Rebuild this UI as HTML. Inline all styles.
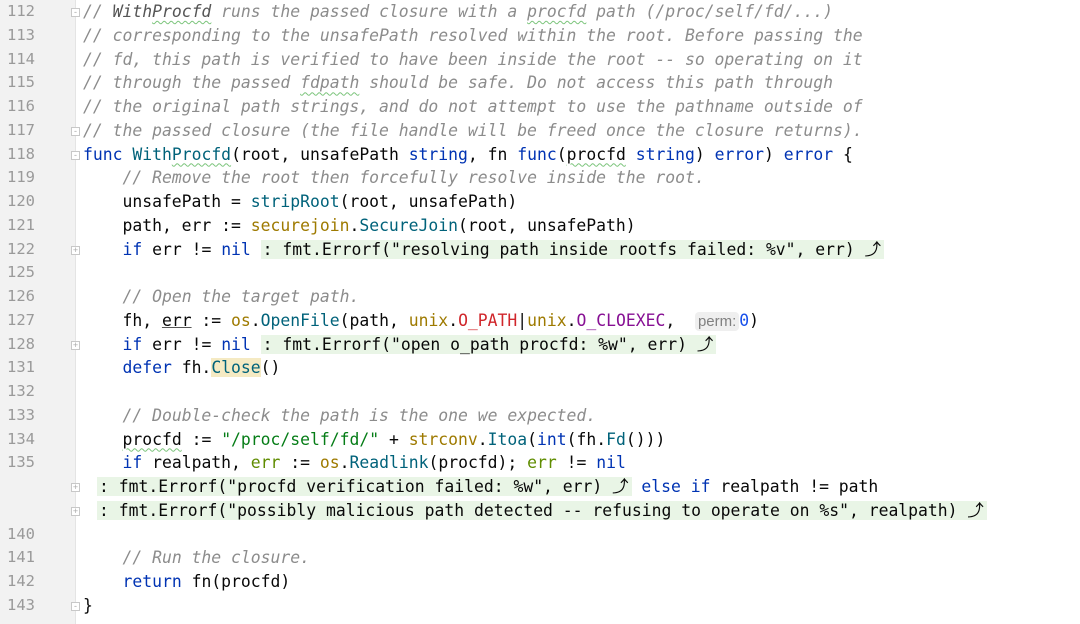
<!DOCTYPE html>
<html><head><meta charset="utf-8"><style>
body{margin:0;width:1080px;height:624px;background:#fff;position:relative;overflow:hidden;font-family:"DejaVu Sans Mono","Liberation Mono",monospace;font-size:16.4px;color:#080808}
.g{position:absolute;left:0;top:0;width:75px;height:624px;background:#f2f2f2;border-right:1px solid #e4e4e4}
.r{position:absolute;left:0;height:23.75px;line-height:23.75px;width:1080px;white-space:pre}
.n{position:absolute;left:7px;color:#9a9a9a;font-family:"DejaVu Sans Mono",monospace;font-size:15.5px}
.c{position:absolute;left:83px}
.cm{color:#8c8c8c;font-style:italic}
.k{color:#0033b3}
.f{color:#00627a}
.p{color:#9e7a00}
.s{color:#067d17}
.num{color:#1750eb}
.red{color:#d0262b}
.pu{color:#871094}
.ol{color:#5f8c00}
.fold{background:#e9f5e6;padding:0 3px 0 2px}
.hl{background:#f5eac3}
.w{text-decoration:underline wavy #7bc47b;text-decoration-thickness:1px;text-underline-offset:3px}
.u{text-decoration:underline #555}
.hint{font-family:"Liberation Sans",sans-serif;font-size:15px;color:#808080;background:#efefef;border-radius:4px;padding:1px 3px}
.m{position:absolute;left:71px;width:9px;height:9px;border:1px solid #c8c8c8;background:#fff;box-sizing:border-box;font-size:9px;line-height:7px;text-align:center;color:#aaa;font-family:"Liberation Sans",sans-serif}
</style></head><body>
<div class="g"></div>

<div class="r" style="top:0"><span class="n">112</span><span class="m" style="top:8px">-</span><span class="c cm">// <span style="color:#555">With<span class="w">Procfd</span></span> runs the passed closure with a <span class="w">procfd</span> path (/proc/self/fd/...)</span></div>
<div class="r" style="top:23.75px"><span class="n">113</span><span class="c cm">// corresponding to the unsafePath resolved within the root. Before passing the</span></div>
<div class="r" style="top:47.5px"><span class="n">114</span><span class="c cm">// fd, this path is verified to have been inside the root -- so operating on it</span></div>
<div class="r" style="top:71.25px"><span class="n">115</span><span class="c cm">// through the passed <span class="w">fdpath</span> should be safe. Do not access this path through</span></div>
<div class="r" style="top:95px"><span class="n">116</span><span class="c cm">// the original path strings, and do not attempt to use the pathname outside of</span></div>
<div class="r" style="top:118.75px"><span class="n">117</span><span class="m" style="top:8px">-</span><span class="c cm">// the passed closure (the file handle will be freed once the closure returns).</span></div>
<div class="r" style="top:142.5px"><span class="n">118</span><span class="m" style="top:8px">-</span><span class="c"><span class="k">func</span> <span class="f">With<span class="w">Procfd</span></span>(root, unsafePath <span class="k">string</span>, fn <span class="k">func</span>(<span class="w">procfd</span> <span class="k">string</span>) <span class="k">error</span>) <span class="k">error</span> {</span></div>
<div class="r" style="top:166.25px"><span class="n">119</span><span class="c">    <span class="cm">// Remove the root then forcefully resolve inside the root.</span></span></div>
<div class="r" style="top:190px"><span class="n">120</span><span class="c">    unsafePath = <span class="f">stripRoot</span>(root, unsafePath)</span></div>
<div class="r" style="top:213.75px"><span class="n">121</span><span class="c">    path, err := <span class="p">securejoin</span>.<span class="f">SecureJoin</span>(root, unsafePath)</span></div>
<div class="r" style="top:237.5px"><span class="n">122</span><span class="m" style="top:8px">+</span><span class="c">    <span class="k">if</span> err != <span class="k">nil</span> <span class="fold">: fmt.Errorf("resolving path inside rootfs failed: %v", err) ⤴</span></span></div>
<div class="r" style="top:261.25px"><span class="n">125</span></div>
<div class="r" style="top:285px"><span class="n">126</span><span class="c">    <span class="cm">// Open the target path.</span></span></div>
<div class="r" style="top:308.75px"><span class="n">127</span><span class="c">    fh, <span class="u">err</span> := <span class="p">os</span>.<span class="f">OpenFile</span>(path, <span class="p">unix</span>.<span class="red">O_PATH</span>|<span class="p">unix</span>.<span class="pu">O_CLOEXEC</span>,  <span class="hint">perm:</span><span class="num">0</span>)</span></div>
<div class="r" style="top:332.5px"><span class="n">128</span><span class="m" style="top:8px">+</span><span class="c">    <span class="k">if</span> err != <span class="k">nil</span> <span class="fold">: fmt.Errorf("open o_path procfd: %w", err) ⤴</span></span></div>
<div class="r" style="top:356.25px"><span class="n">131</span><span class="c">    <span class="k">defer</span> fh.<span class="f hl">Close</span>()</span></div>
<div class="r" style="top:380px"><span class="n">132</span></div>
<div class="r" style="top:403.75px"><span class="n">133</span><span class="c">    <span class="cm">// Double-check the path is the one we expected.</span></span></div>
<div class="r" style="top:427.5px"><span class="n">134</span><span class="c">    <span class="w">procfd</span> := <span class="s">"/proc/self/fd/"</span> + <span class="p">strconv</span>.<span class="f">Itoa</span>(<span class="k">int</span>(fh.<span class="f">Fd</span>()))</span></div>
<div class="r" style="top:451.25px"><span class="n">135</span><span class="c">    <span class="k">if</span> realpath, <span class="ol">err</span> := <span class="p">os</span>.<span class="f">Readlink</span>(procfd); <span class="ol">err</span> != <span class="k">nil</span></span></div>
<div class="r" style="top:475px"><span class="m" style="top:8px">+</span><span class="c" style="left:97px"><span class="fold">: fmt.Errorf("procfd verification failed: %w", err) ⤴</span> <span class="k">else</span> <span class="k">if</span> realpath != path</span></div>
<div class="r" style="top:498.75px"><span class="m" style="top:8px">+</span><span class="c" style="left:97px"><span class="fold">: fmt.Errorf("possibly malicious path detected -- refusing to operate on %s", realpath) ⤴</span></span></div>
<div class="r" style="top:522.5px"><span class="n">140</span></div>
<div class="r" style="top:546.25px"><span class="n">141</span><span class="c">    <span class="cm">// Run the closure.</span></span></div>
<div class="r" style="top:570px"><span class="n">142</span><span class="c">    <span class="k">return</span> fn(procfd)</span></div>
<div class="r" style="top:593.75px"><span class="n">143</span><span class="m" style="top:8px">-</span><span class="c">}</span></div>
</body></html>
